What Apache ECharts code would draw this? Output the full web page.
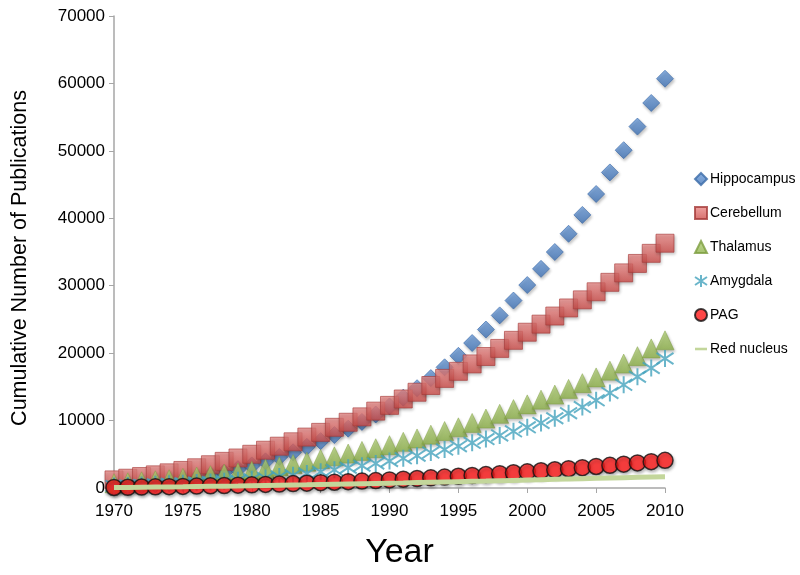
<!DOCTYPE html>
<html>
<head>
<meta charset="utf-8">
<script src="https://cdn.jsdelivr.net/npm/echarts@6/dist/echarts.min.js"></script>
<style>html,body{margin:0;padding:0;background:#fff}#c{width:800px;height:575px}</style>
</head>
<body>
<div id="c"></div>
<script>
var years = [];
for (var y = 1970; y <= 2010; y++) years.push(y);

var hippocampus = [100,200,350,550,800,1100,1450,1850,2300,2800,3350,3950,4600,5300,6100,6950,7850,8800,9800,10900,12100,13400,14800,16300,17900,19600,21500,23500,25600,27800,30100,32500,35000,37700,40500,43600,46800,50100,53600,57100,60700];
var cerebellum = [1200,1450,1700,1950,2250,2600,3000,3450,3950,4450,5000,5600,6200,6850,7550,8250,9000,9750,10550,11400,12250,13200,14200,15200,16250,17300,18400,19500,20700,21900,23100,24300,25500,26700,27900,29100,30500,31900,33300,34800,36300];
var thalamus = [700,850,1000,1150,1300,1500,1700,1900,2100,2300,2550,2850,3200,3550,3900,4300,4700,5100,5500,5900,6350,6850,7350,7900,8450,9000,9650,10300,11000,11700,12400,13100,13850,14700,15550,16400,17400,18450,19550,20700,21900];
var amygdala = [300,380,460,540,620,700,800,900,1000,1150,1300,1500,1700,1900,2150,2400,2700,3000,3300,3650,4000,4400,4800,5250,5700,6200,6700,7250,7800,8400,9000,9650,10350,11100,12000,13000,14100,15300,16500,17800,19200];
var pag = [80,110,140,170,200,240,280,320,370,420,470,530,590,650,720,790,860,940,1020,1100,1200,1300,1400,1510,1620,1740,1860,1990,2120,2260,2400,2550,2700,2860,3020,3190,3360,3540,3720,3910,4100];
var redNucleus = [60,85,110,135,160,185,215,245,275,305,340,375,410,445,480,520,560,600,640,680,720,760,805,850,895,940,985,1030,1080,1130,1180,1230,1280,1330,1380,1430,1480,1530,1580,1630,1680];

var xTicks = [1970,1975,1980,1985,1990,1995,2000,2005,2010];
var yTicks = [0,10000,20000,30000,40000,50000,60000,70000];

function pairs(arr){ return years.map(function(yr,i){ return [yr, arr[i]]; }); }
function grad(top, bottom){
  return new echarts.graphic.LinearGradient(0,0,0,1,[{offset:0,color:top},{offset:1,color:bottom}]);
}
var shadow = {shadowBlur:3, shadowOffsetX:1, shadowOffsetY:2, shadowColor:'rgba(0,0,0,0.3)'};
var asterisk = 'path://M0,2L12,10M12,2L0,10M6,0L6,12';
var dash = 'path://M0,0L14,0L14,3L0,3Z';

var chart = echarts.init(document.getElementById('c'), null, {renderer:'canvas'});
var font = 'Liberation Sans, Arial, Helvetica, sans-serif';
chart.setOption({
  animation:false,
  backgroundColor:'#fff',
  textStyle:{fontFamily:font},
  grid:{left:114, right:135, top:16, bottom:79, containLabel:false},
  legend:{
    orient:'vertical', left:689, top:167, itemGap:20, itemWidth:12, itemHeight:12,
    textStyle:{fontSize:14, color:'#000', fontFamily:font, padding:[0,0,0,-2]},
    data:[
      {name:'Hippocampus', icon:'diamond'},
      {name:'Cerebellum', icon:'rect'},
      {name:'Thalamus', icon:'triangle'},
      {name:'Amygdala', icon:asterisk},
      {name:'PAG', icon:'circle'},
      {name:'Red nucleus', icon:dash}
    ]
  },
  xAxis:{
    type:'value', min:1970, max:2010, interval:5,
    name:'Year', nameLocation:'middle', nameGap:48,
    nameTextStyle:{fontSize:34, color:'#000', fontFamily:font, padding:[0,0,0,20]},
    axisLine:{onZero:false, lineStyle:{color:'#a6a6a6', width:1.5}},
    axisTick:{show:true, length:5, lineStyle:{color:'#a6a6a6'}},
    axisLabel:{fontSize:17, color:'#000', margin:15, formatter:function(v){return xTicks.indexOf(v)>=0?String(v):'';}},
    splitLine:{show:false}
  },
  yAxis:{
    type:'value', min:0, max:70000, interval:10000,
    name:'Cumulative Number of Publications', nameLocation:'middle', nameGap:83,
    nameTextStyle:{fontSize:21.5, color:'#000', fontFamily:font, padding:[0,12,0,0]},
    axisLine:{show:true, lineStyle:{color:'#a6a6a6', width:1.5}},
    axisTick:{show:true, length:5, lineStyle:{color:'#a6a6a6'}},
    axisLabel:{fontSize:17, color:'#000', margin:9, formatter:function(v){return yTicks.indexOf(v)>=0?String(v):'';}},
    splitLine:{show:false}
  },
  series:[
    {name:'Hippocampus', type:'scatter', symbol:'diamond', symbolSize:17, data:pairs(hippocampus),
     itemStyle:Object.assign({color:grad('#6f9fdc','#3f72b5'), borderColor:'#3a6aa8', borderWidth:0.8}, shadow)},
    {name:'Cerebellum', type:'scatter', symbol:'rect', symbolSize:18, data:pairs(cerebellum),
     itemStyle:Object.assign({color:grad('#ec8d8b','#cc4b48'), borderColor:'#a53b39', borderWidth:0.8}, shadow)},
    {name:'Thalamus', type:'scatter', symbol:'triangle', symbolSize:[18,19], data:pairs(thalamus),
     itemStyle:Object.assign({color:grad('#b5d37a','#8cb048'), borderColor:'#7d9d40', borderWidth:0.6}, shadow)},
    {name:'Amygdala', type:'scatter', symbol:asterisk, symbolSize:17, data:pairs(amygdala),
     itemStyle:{color:'rgba(0,0,0,0)', borderColor:'#43a3bd', borderWidth:2}},
    {name:'PAG', type:'scatter', symbol:'circle', symbolSize:16, data:pairs(pag),
     itemStyle:Object.assign({color:'#ff1a1a', borderColor:'#111', borderWidth:1.5}, shadow)},
    {name:'Red nucleus', type:'line', z:3, symbol:'none', showSymbol:false, data:pairs(redNucleus),
     lineStyle:{color:'#c3d69b', width:5}, itemStyle:{color:'#c3d69b'}}
  ]
});
</script>
</body>
</html>
